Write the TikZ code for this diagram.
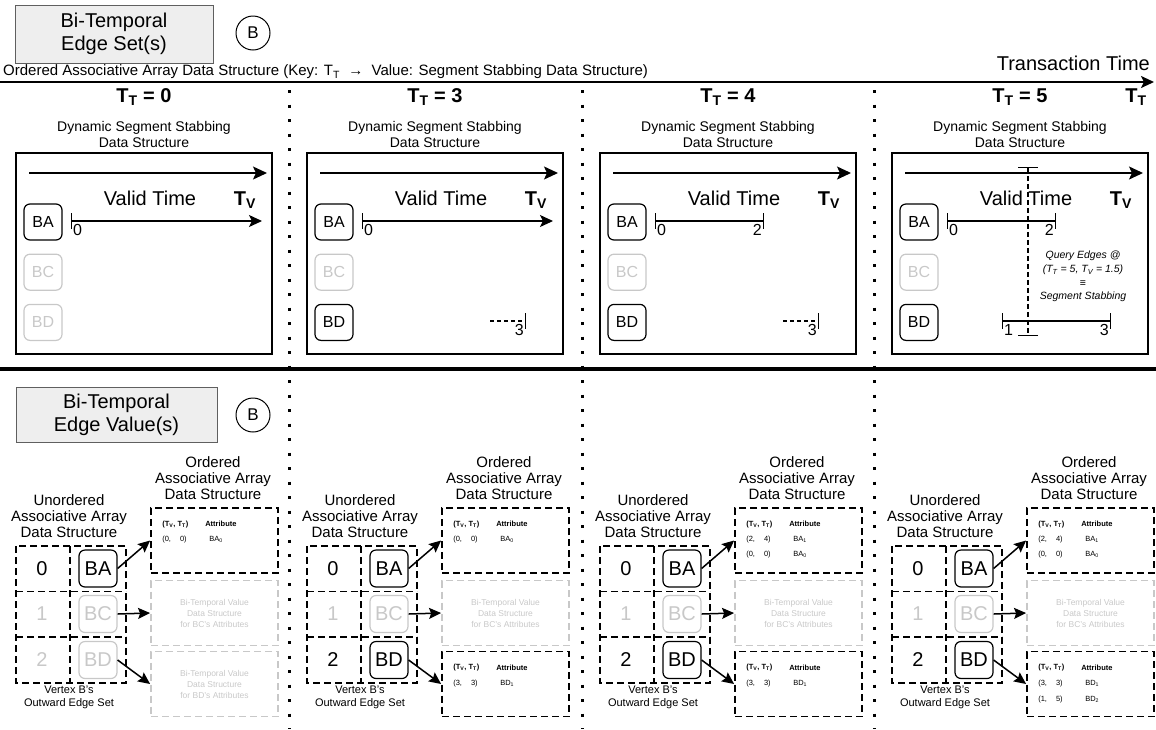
\documentclass[tikz,border=0pt]{standalone}
\usepackage{fontspec}
\setmainfont{Liberation Sans}
\usetikzlibrary{arrows.meta, positioning}
\definecolor{PaleGray}{RGB}{238, 238, 238}
\definecolor{FrameGray}{RGB}{95, 95, 95}
\definecolor{FadeGray}{RGB}{200, 200, 200}

\begin{document}
\begin{tikzpicture}[x=1pt, y=-1pt,
  title/.style={%
    rectangle, draw=FrameGray, fill=PaleGray, line width=1pt,
    font=\fontsize{20}{23}\selectfont, align=center, inner sep=0pt},
  vtx/.style={circle, draw, line width=1pt, minimum size=34pt,
    inner sep=0pt, font=\fontsize{17}{17}\selectfont},
  edgebox/.style={%
    rectangle, rounded corners=6pt, draw, line width=1.2pt,
    minimum width=38pt, minimum height=36pt, inner sep=0pt,
    font=\fontsize{16}{16}\selectfont},
  bigedge/.style={edgebox, minimum height=37pt, font=\fontsize{20}{20}\selectfont},
  faded/.style={draw=FadeGray, text=FadeGray},
  shown/.style={},
  note/.style={align=center, inner sep=0pt, font=\fontsize{14}{16}\selectfont},
  bignote/.style={inner sep=0pt, font=\fontsize{20}{20}\selectfont},
  ttlabel/.style={inner sep=0pt, font=\fontsize{20}{20}\selectfont\bfseries},
  ticklbl/.style={inner sep=0pt, font=\fontsize{16}{16}\selectfont},
  dssbox/.style={rectangle, draw, line width=1.8pt,
    minimum width=256pt, minimum height=201pt, inner sep=0pt},
  tbl/.style={rectangle, draw, line width=1.8pt, dash pattern=on 7pt off 4pt,
    minimum width=127pt, minimum height=65pt, inner sep=0pt},
  cell/.style={line width=1.8pt, dash pattern=on 7pt off 4pt},
  num/.style={inner sep=0pt, font=\fontsize{20}{20}\selectfont},
  small/.style={align=center, inner sep=0pt, font=\fontsize{11}{13}\selectfont},
  rowtxt/.style={anchor=west, inner sep=0pt, font=\fontsize{7.5}{7.5}\selectfont},
  rowhead/.style={rowtxt, font=\fontsize{7.5}{7.5}\selectfont\bfseries},
  graynote/.style={align=center, inner sep=0pt, text=FadeGray,
    font=\fontsize{8.5}{11}\selectfont},
  sep/.style={line width=3pt, dash pattern=on 3pt off 11.5pt},
  axis/.style={line width=1.5pt, -{Stealth[length=14pt, width=13pt, inset=3pt]}},
  ivalopen/.style={line width=1.2pt,
    {Bar[width=16pt]}-{Stealth[length=13pt, width=12pt, inset=3pt]}},
  ival/.style={line width=1.2pt, {Bar[width=16pt]}-{Bar[width=16pt]}},
  ivaldash/.style={line width=1.2pt, dash pattern=on 4pt off 3pt, -{Bar[width=16pt]}},
  qline/.style={line width=1.2pt, dash pattern=on 5pt off 3pt,
    {Bar[width=20pt]}-{Bar[width=20pt]}},
  link/.style={line width=1.5pt, -{Stealth[length=12pt, width=11pt, inset=2pt]}}
]
\useasboundingbox (0,0) rectangle (1156,729);

% headers
\node[title, minimum width=198pt, minimum height=58pt] (setttl) at (114,34)
  {Bi-Temporal\\Edge Set(s)};
\node[vtx] (vb1) at (253,33) {B};
\node[anchor=west, inner sep=0pt, font=\fontsize{15}{15}\selectfont] (oaads) at (3,72)
  {Ordered Associative Array Data Structure (Key: T\textsubscript{T}\ \ →\ \ Value: Segment Stabbing Data Structure)};
\draw[line width=2pt, -{Stealth[length=13pt, width=12pt, inset=3pt]}] (0,82) -- (1154,82);
\node[anchor=east, inner sep=0pt, font=\fontsize{20}{20}\selectfont] (txtime) at (1150,63) {Transaction Time};
\node[ttlabel] (ttend) at (1136,97) {T\textsubscript{T}};

\draw[line width=4pt] (0,369) -- (1156,369);
\node[title, minimum width=201pt, minimum height=55pt] (valttl) at (116.5,414.5)
  {Bi-Temporal\\Edge Value(s)};
\node[vtx] (vb2) at (253,415) {B};

\foreach \x in {289, 582, 874}
  \draw[sep] (\x,90) -- (\x,729);

\foreach \p/\dx/\tval/\bdfade in {1/0/0/faded, 2/291/3/shown, 3/584/4/shown, 4/876/5/shown}{
  \pgfmathsetmacro{\L}{16+\dx}
  % segment stabbing structure
  \node[ttlabel] (tt\p) at (\L+128,97) {T\textsubscript{T} = \tval};
  \node[note] (dsscap\p) at (\L+128,134) {Dynamic Segment Stabbing\\Data Structure};
  \node[dssbox] (dss\p) at (\L+128,253.5) {};
  \draw[axis] (\L+13,173) -- (\L+251,173);
  \node[bignote] (vt\p) at (\L+134,198) {Valid Time};
  \node[ttlabel] (tv\p) at (\L+229,200) {T\textsubscript{V}};
  \node[edgebox] (ba\p) at (\L+27,222) {BA};
  \node[edgebox, faded, below=13pt of ba\p] (bc\p) {BC};
  \node[edgebox, \bdfade, below=13pt of bc\p] (bd\p) {BD};
  % value structures
  \node[note, font=\fontsize{15}{16}\selectfont] (ucap\p) at (\L+53,516)
    {Unordered\\Associative Array\\Data Structure};
  \draw[cell] (\L,546) rectangle (\L+110,683);
  \draw[cell] (\L+54,546) -- (\L+54,683);
  \draw[cell] (\L,591.5) -- (\L+110,591.5) (\L,637) -- (\L+110,637);
  \node[num] (k0\p) at (\L+26,569) {0};
  \node[num, text=FadeGray] (k1\p) at (\L+26,614) {1};
  \node[num, \bdfade, draw=none] (k2\p) at (\L+26,660) {2};
  \node[bigedge] (va\p) at (\L+82,568.5) {BA};
  \node[bigedge, faded] (vc\p) at (\L+82,614) {BC};
  \node[bigedge, \bdfade] (vd\p) at (\L+82,660) {BD};
  \node[small] (vcap\p) at (\L+53,697) {Vertex B's\\Outward Edge Set};
  \node[note, font=\fontsize{15}{16}\selectfont] (ocap\p) at (\L+197,478)
    {Ordered\\Associative Array\\Data Structure};
  \node[tbl] (ta\p) at (\L+198.5,540.5) {};
  \node[tbl, faded] (tb\p) at (\L+198.5,613) {};
  \node[tbl, \bdfade] (tc\p) at (\L+198.5,684) {};
  \node[rowhead] (tah\p) at ([shift={(12,17)}]ta\p.north west) {(T\textsubscript{V}, T\textsubscript{T})};
  \node[rowhead] (taa\p) at ([shift={(55,17)}]ta\p.north west) {Attribute};
  \node[graynote] (tbt\p) at (tb\p) {Bi-Temporal Value\\Data Structure\\for BC's Attributes};
  \draw[link] (va\p.east) -- (ta\p.west);
  \draw[link] (vc\p.east) -- (tb\p.west);
  \draw[link] (vd\p.east) -- (tc\p.west);
}

% T_T = 0
\draw[ivalopen] (71,221) -- (262,221);
\node[ticklbl, anchor=north west] (z1) at (73,224) {0};
\node[rowtxt] (ra1) at ([shift={(12,32)}]ta1.north west) {(0,\hspace{9pt}0)};
\node[rowtxt] (rb1) at ([shift={(59,32)}]ta1.north west) {BA\textsubscript{0}};
\node[graynote] (tct1) at (tc1) {Bi-Temporal Value\\Data Structure\\for BD's Attributes};

% T_T = 3
\draw[ivalopen] (362,221) -- (553,221);
\node[ticklbl, anchor=north west] (z2) at (364,224) {0};
\draw[ivaldash] (490,321) -- (526,321);
\node[ticklbl, anchor=north east] (t2) at (524,324) {3};
\node[rowtxt] (ra2) at ([shift={(12,32)}]ta2.north west) {(0,\hspace{9pt}0)};
\node[rowtxt] (rb2) at ([shift={(59,32)}]ta2.north west) {BA\textsubscript{0}};
\node[rowhead] (tch2) at ([shift={(12,17)}]tc2.north west) {(T\textsubscript{V}, T\textsubscript{T})};
\node[rowhead] (tca2) at ([shift={(55,17)}]tc2.north west) {Attribute};
\node[rowtxt] (rc2) at ([shift={(12,33)}]tc2.north west) {(3,\hspace{9pt}3)};
\node[rowtxt] (rd2) at ([shift={(59,33)}]tc2.north west) {BD\textsubscript{1}};

% T_T = 4
\draw[ival] (655,221) -- (764,221);
\node[ticklbl, anchor=north west] (z3) at (657,224) {0};
\node[ticklbl, anchor=north east] (w3) at (762,224) {2};
\draw[ivaldash] (783,321) -- (819,321);
\node[ticklbl, anchor=north east] (t3) at (817,324) {3};
\node[rowtxt] (ra3) at ([shift={(12,32)}]ta3.north west) {(2,\hspace{9pt}4)};
\node[rowtxt] (rb3) at ([shift={(59,32)}]ta3.north west) {BA\textsubscript{1}};
\node[rowtxt] (ra3b) at ([shift={(12,47)}]ta3.north west) {(0,\hspace{9pt}0)};
\node[rowtxt] (rb3b) at ([shift={(59,47)}]ta3.north west) {BA\textsubscript{0}};
\node[rowhead] (tch3) at ([shift={(12,17)}]tc3.north west) {(T\textsubscript{V}, T\textsubscript{T})};
\node[rowhead] (tca3) at ([shift={(55,17)}]tc3.north west) {Attribute};
\node[rowtxt] (rc3) at ([shift={(12,33)}]tc3.north west) {(3,\hspace{9pt}3)};
\node[rowtxt] (rd3) at ([shift={(59,33)}]tc3.north west) {BD\textsubscript{1}};

% T_T = 5
\draw[ival] (947,221) -- (1056,221);
\node[ticklbl, anchor=north west] (z4) at (949,224) {0};
\node[ticklbl, anchor=north east] (w4) at (1054,224) {2};
\draw[ival] (1002,321) -- (1111,321);
\node[ticklbl, anchor=north west] (o4) at (1004,324) {1};
\node[ticklbl, anchor=north east] (t4) at (1109,324) {3};
\draw[qline] (1028,167) -- (1028,336);
\node[align=center, inner sep=0pt, font=\fontsize{10.5}{13.7}\selectfont\itshape] (query) at (1083,276.5)
  {Query Edges @\\(T\textsubscript{T} = 5, T\textsubscript{V} = 1.5)\\≡\\Segment Stabbing};
\node[rowtxt] (ra4) at ([shift={(12,32)}]ta4.north west) {(2,\hspace{9pt}4)};
\node[rowtxt] (rb4) at ([shift={(59,32)}]ta4.north west) {BA\textsubscript{1}};
\node[rowtxt] (ra4b) at ([shift={(12,47)}]ta4.north west) {(0,\hspace{9pt}0)};
\node[rowtxt] (rb4b) at ([shift={(59,47)}]ta4.north west) {BA\textsubscript{0}};
\node[rowhead] (tch4) at ([shift={(12,17)}]tc4.north west) {(T\textsubscript{V}, T\textsubscript{T})};
\node[rowhead] (tca4) at ([shift={(55,17)}]tc4.north west) {Attribute};
\node[rowtxt] (rc4) at ([shift={(12,33)}]tc4.north west) {(3,\hspace{9pt}3)};
\node[rowtxt] (rd4) at ([shift={(59,33)}]tc4.north west) {BD\textsubscript{1}};
\node[rowtxt] (rc4b) at ([shift={(12,49)}]tc4.north west) {(1,\hspace{9pt}5)};
\node[rowtxt] (rd4b) at ([shift={(59,49)}]tc4.north west) {BD\textsubscript{2}};
\end{tikzpicture}
\end{document}
